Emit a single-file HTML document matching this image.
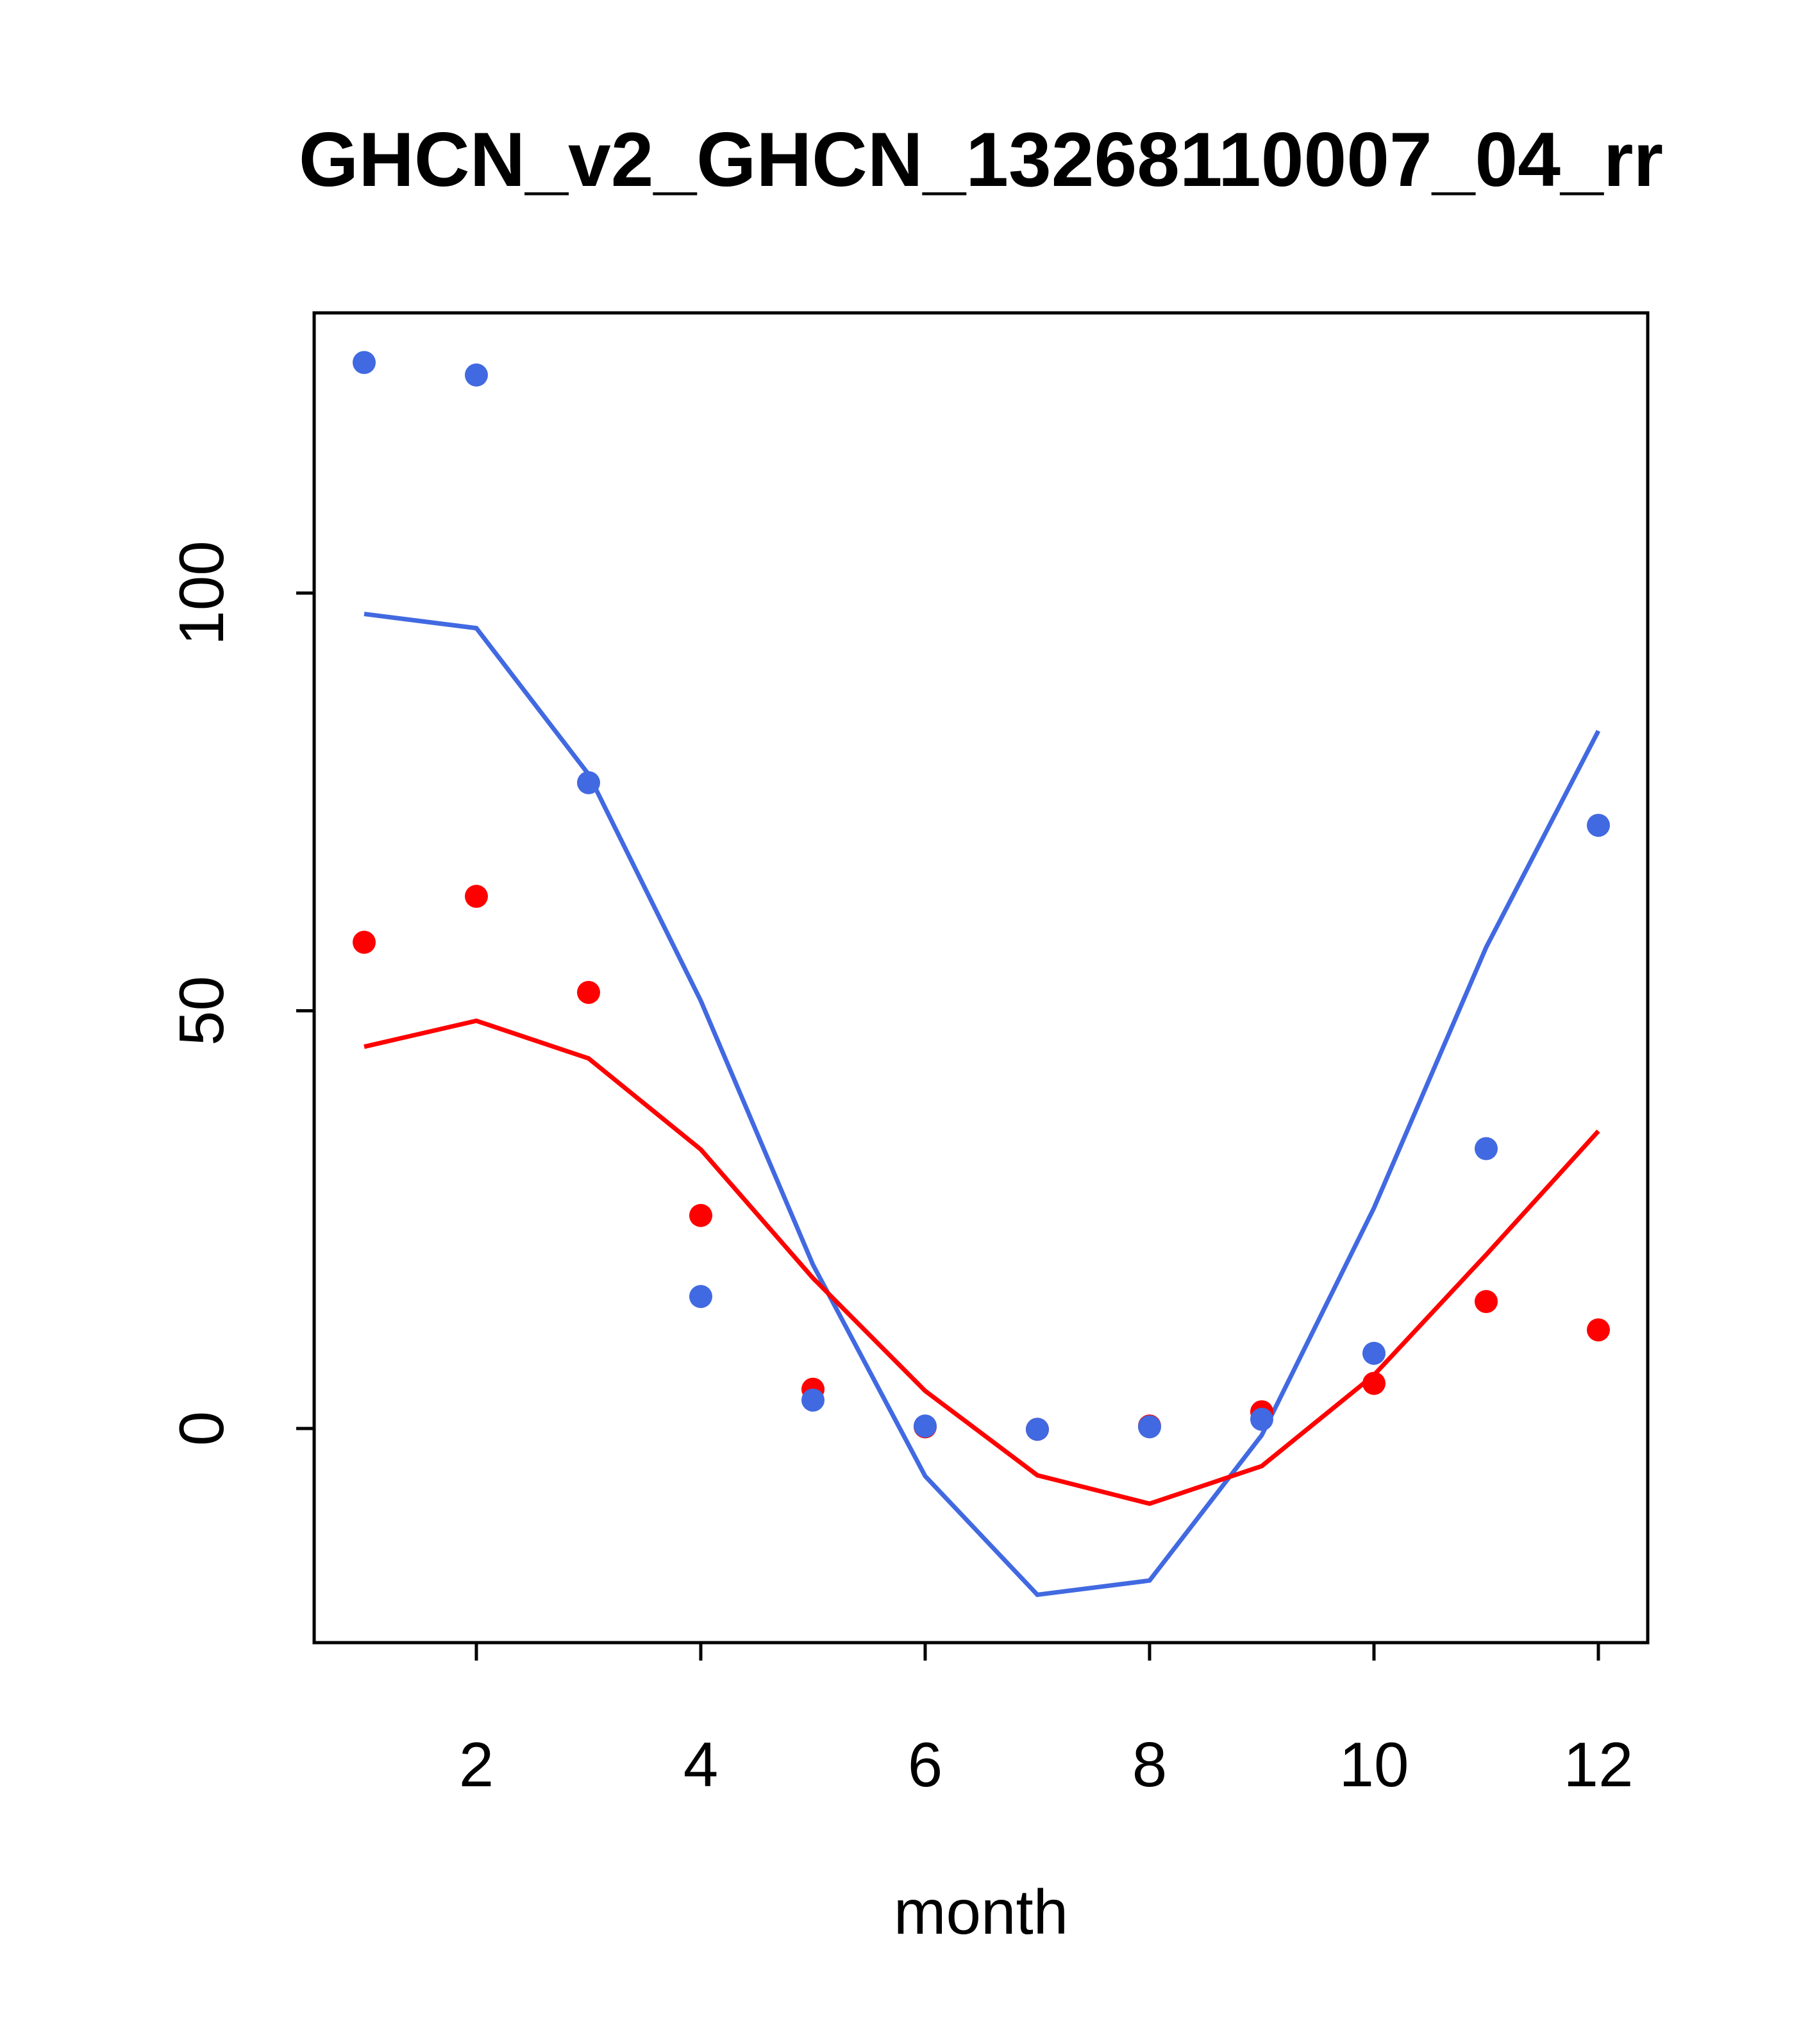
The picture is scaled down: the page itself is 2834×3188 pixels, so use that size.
<!DOCTYPE html>
<html><head><meta charset="utf-8"><style>
html,body{margin:0;padding:0;background:#fff}
svg{display:block;font-family:"Liberation Sans",sans-serif}
</style></head><body>
<svg id="chart" width="2834" height="3188" viewBox="0 0 2834 3188">
<text x="1530" y="290" text-anchor="middle" font-size="120" font-weight="bold">GHCN_v2_GHCN_13268110007_04_rr</text>
<rect x="490" y="488" width="2080" height="2074" fill="none" stroke="#000" stroke-width="5"/>
<g id="axes"></g>
<g id="series"></g>
<text x="1530" y="3016" text-anchor="middle" font-size="98">month</text>
</svg>
<script>
const months=[1,2,3,4,5,6,7,8,9,10,11,12];
const bluePoints=[127.6,126.1,77.3,15.8,3.4,0.3,-0.1,0.2,1.1,9.0,33.5,72.2];
const redPoints=[58.2,63.7,52.2,25.5,4.7,0.2,-0.1,0.3,2.0,5.4,15.2,11.8];
const blueLine=[97.5,95.8,78.3,51.2,19.6,-5.7,-19.9,-18.2,-0.8,26.4,57.6,83.5];
const redLine=[45.7,48.8,44.3,33.4,18.0,4.5,-5.6,-9.0,-4.5,6.4,20.8,35.6];
const xTicks=[2,4,6,8,10,12];
const yTicks=[0,50,100];

const NS="http://www.w3.org/2000/svg";
function xs(m){return 568+(m-1)*175;}
function ys(v){return 2228-v*13.03;}
const axes=document.getElementById('axes'), series=document.getElementById('series');
function mk(tag,attrs,parent){const e=document.createElementNS(NS,tag);for(const k in attrs)e.setAttribute(k,attrs[k]);parent.appendChild(e);return e;}

xTicks.forEach(t=>{
  const l=mk('line',{x1:xs(t),x2:xs(t),y1:2562,y2:2590,stroke:'#000','stroke-width':5},axes);
  
  
  const tx=mk('text',{x:xs(t),y:2786,'text-anchor':'middle','font-size':98},axes);
  tx.textContent=t;
  
  
});
yTicks.forEach(t=>{
  const l=mk('line',{x1:462,x2:490,y1:ys(t),y2:ys(t),stroke:'#000','stroke-width':5},axes);
  
  
  const tx=mk('text',{x:0,y:0,'text-anchor':'middle','font-size':98,transform:`translate(348,${ys(t)}) rotate(-90)`},axes);
  tx.textContent=t;
  
  
});
function line(vals,color,name){
  const p=mk('polyline',{points:vals.map((v,i)=>xs(months[i])+','+ys(v)).join(' '),fill:'none',stroke:color,'stroke-width':7},series);
  
  
}
function pts(vals,color,name){
  vals.forEach((v,i)=>{
    const c=mk('circle',{cx:xs(months[i]),cy:ys(v),r:18,fill:color},series);
    
    
  });
}
line(blueLine,'#4169e1','blue-line');
line(redLine,'#ff0000','red-line');
pts(redPoints,'#ff0000','red-point');
pts(bluePoints,'#4169e1','blue-point');
</script>
</body></html>
